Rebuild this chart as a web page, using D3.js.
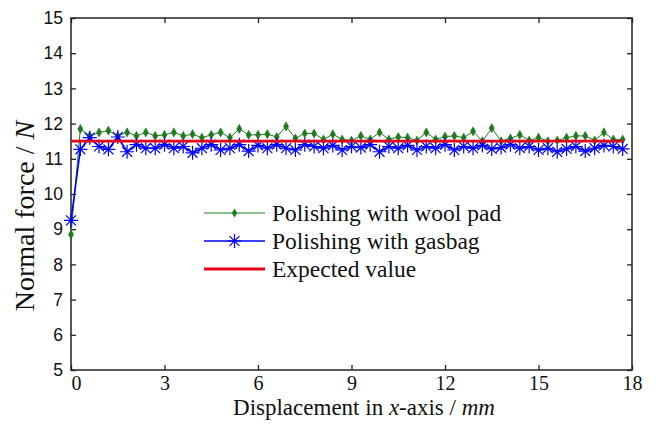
<!DOCTYPE html>
<html>
<head>
<meta charset="utf-8">
<script src="https://cdn.jsdelivr.net/npm/d3@7"></script>
<style>
  body { margin: 0; background: #fff; }
  svg { display: block; }
</style>
</head>
<body>
<script>
// x positions (mm), sampled every 0.3 mm
const xValues = d3.range(60).map(i => +(i * 0.3).toFixed(1));

const woolPad = [8.85, 11.85, 11.65, 11.75, 11.8, 11.65, 11.75, 11.65, 11.75, 11.65,
  11.68, 11.75, 11.65, 11.7, 11.6, 11.68, 11.75, 11.6, 11.85, 11.68,
  11.68, 11.7, 11.62, 11.92, 11.58, 11.72, 11.72, 11.55, 11.7, 11.55,
  11.52, 11.65, 11.55, 11.75, 11.55, 11.62, 11.6, 11.52, 11.75, 11.55,
  11.63, 11.65, 11.6, 11.78, 11.5, 11.87, 11.5, 11.58, 11.68, 11.52,
  11.6, 11.5, 11.52, 11.6, 11.65, 11.65, 11.52, 11.75, 11.55, 11.55];

const gasbag = [9.25, 11.27, 11.6, 11.35, 11.27, 11.62, 11.2, 11.4, 11.3, 11.3,
  11.4, 11.3, 11.35, 11.17, 11.3, 11.4, 11.25, 11.3, 11.4, 11.22,
  11.38, 11.3, 11.4, 11.3, 11.25, 11.4, 11.35, 11.3, 11.38, 11.25,
  11.35, 11.32, 11.4, 11.2, 11.35, 11.3, 11.38, 11.25, 11.35, 11.3,
  11.4, 11.25, 11.35, 11.3, 11.38, 11.28, 11.32, 11.4, 11.3, 11.35,
  11.25, 11.3, 11.2, 11.28, 11.35, 11.22, 11.3, 11.38, 11.35, 11.28];

const expectedX = [0, 17.7];
const expectedY = [11.5, 11.5];

const xTicks = [0, 3, 6, 9, 12, 15, 18];
const yTicks = [5, 6, 7, 8, 9, 10, 11, 12, 13, 14, 15];
const legendLabels = ["Polishing with wool pad", "Polishing with gasbag", "Expected value"];

const W = 656, H = 427;
const margin = { top: 18, right: 24, bottom: 57, left: 71 };
const width = W - margin.left - margin.right,
      height = H - margin.top - margin.bottom;

const green = "#1f7a1f", blue = "#0000ff", red = "#e6001a", axisCol = "#222";
const serif = "Liberation Serif, Times New Roman, serif";

const svg = d3.select("body").append("svg")
  .attr("width", W).attr("height", H);
const g = svg.append("g")
  .attr("transform", "translate(" + margin.left + "," + margin.top + ")");

const x = d3.scaleLinear().domain([0, 18]).range([0, width]);
const y = d3.scaleLinear().domain([5, 15]).range([height, 0]);

// inward ticks on all four sides (matlab box)
const tick = 5;
g.append("g")
  .attr("transform", "translate(0," + height + ")")
  .call(d3.axisBottom(x).tickValues(xTicks).tickSizeInner(-tick).tickSizeOuter(0).tickPadding(7))
  .call(a => a.select(".domain").remove())
  .call(a => a.selectAll("line").attr("stroke", axisCol).attr("stroke-width", 1.3))
  .call(a => a.selectAll("text").attr("font-family", serif)
    .attr("font-size", 20).attr("fill", "#111").attr("dx", (d, i) => i === 0 ? 5 : 0).attr("dy", "0.64em"));

g.append("g")
  .call(d3.axisTop(x).tickValues(xTicks).tickSizeInner(-tick).tickSizeOuter(0).tickFormat(""))
  .call(a => a.select(".domain").remove())
  .call(a => a.selectAll("line").attr("stroke", axisCol).attr("stroke-width", 1.3));

g.append("g")
  .call(d3.axisLeft(y).tickValues(yTicks).tickSizeInner(-tick).tickSizeOuter(0).tickPadding(8))
  .call(a => a.select(".domain").remove())
  .call(a => a.selectAll("line").attr("stroke", axisCol).attr("stroke-width", 1.3))
  .call(a => a.selectAll("text").attr("font-family", "Liberation Sans, Arial, sans-serif")
    .attr("font-size", 17.5).attr("fill", "#111"));

g.append("g")
  .attr("transform", "translate(" + width + ",0)")
  .call(d3.axisRight(y).tickValues(yTicks).tickSizeInner(-tick).tickSizeOuter(0).tickFormat(""))
  .call(a => a.select(".domain").remove())
  .call(a => a.selectAll("line").attr("stroke", axisCol).attr("stroke-width", 1.3));

g.append("rect")
  .attr("width", width).attr("height", height)
  .attr("fill", "none").attr("stroke", axisCol).attr("stroke-width", 1.5);

// series
const line = d3.line().x(d => x(d[0])).y(d => y(d[1]));
const woolPts = xValues.map((v, i) => [v, woolPad[i]]);
const gasPts = xValues.map((v, i) => [v, gasbag[i]]);
const expPts = expectedX.map((v, i) => [v, expectedY[i]]);

const diamond = d3.symbol().type(d3.symbolDiamond).size(24);
const starPath = (r) => {
  const d = r * Math.SQRT1_2;
  return "M" + (-r) + ",0L" + r + ",0M0," + (-r) + "L0," + r +
         "M" + (-d) + "," + (-d) + "L" + d + "," + d + "M" + (-d) + "," + d + "L" + d + "," + (-d);
};

g.append("path").datum(woolPts)
  .attr("fill", "none").attr("stroke", green).attr("stroke-width", 1).attr("d", line);
g.selectAll(".wool").data(woolPts).join("path")
  .attr("class", "wool")
  .attr("transform", d => "translate(" + x(d[0]) + "," + y(d[1]) + ")")
  .attr("d", diamond).attr("fill", green).attr("stroke", green).attr("stroke-width", 0.5);

g.append("path").datum(gasPts)
  .attr("fill", "none").attr("stroke", blue).attr("stroke-width", 1.6).attr("d", line);
g.selectAll(".gas").data(gasPts).join("path")
  .attr("class", "gas")
  .attr("transform", d => "translate(" + x(d[0]) + "," + y(d[1]) + ")")
  .attr("d", starPath(7)).attr("fill", "none").attr("stroke", blue).attr("stroke-width", 1.2);

g.append("path").datum(expPts)
  .attr("fill", "none").attr("stroke", red).attr("stroke-width", 2.8).attr("d", line);

// legend, no frame
const lg = svg.append("g").attr("transform", "translate(204,213)");
const rowH = 28;
legendLabels.forEach((lab, i) => {
  const row = lg.append("g").attr("transform", "translate(0," + (i * rowH) + ")");
  const col = [green, blue, red][i];
  row.append("line").attr("x1", 0).attr("x2", 61).attr("y1", 0).attr("y2", 0)
    .attr("stroke", col).attr("stroke-width", i === 2 ? 2.8 : (i === 1 ? 1.6 : 1));
  if (i === 0) row.append("path").attr("transform", "translate(30.5,0)").attr("d", diamond).attr("fill", green);
  if (i === 1) row.append("path").attr("transform", "translate(30.5,0)").attr("d", starPath(7))
    .attr("fill", "none").attr("stroke", blue).attr("stroke-width", 1.2);
  row.append("text").attr("x", 68).attr("y", 0).attr("dy", "0.33em")
    .attr("font-family", serif).attr("font-size", 23.5)
    .attr("fill", "#111").text(lab);
});

// axis titles
const xt = svg.append("text")
  .attr("x", 364).attr("y", 415)
  .attr("text-anchor", "middle")
  .attr("font-family", serif).attr("font-size", 23).attr("fill", "#111");
xt.append("tspan").text("Displacement in ");
xt.append("tspan").attr("font-style", "italic").text("x");
xt.append("tspan").text("-axis / ");
xt.append("tspan").attr("font-style", "italic").text("mm");

const yt = svg.append("text")
  .attr("transform", "translate(34,216) rotate(-90)")
  .attr("text-anchor", "middle")
  .attr("font-family", serif).attr("font-size", 28).attr("fill", "#111");
yt.append("tspan").text("Normal force / ");
yt.append("tspan").attr("font-style", "italic").text("N");
</script>
</body>
</html>
